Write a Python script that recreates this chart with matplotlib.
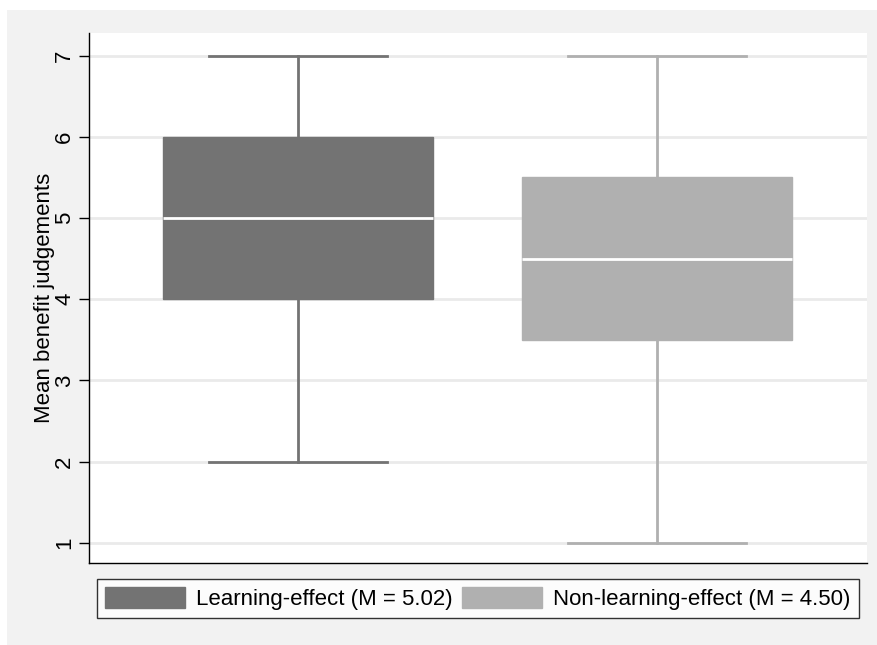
import matplotlib.pyplot as plt
from matplotlib.patches import Patch, Rectangle

plt.rcParams['font.family'] = ['Liberation Sans', 'DejaVu Sans']

# box plot summaries
groups = ['Learning-effect (M = 5.02)', 'Non-learning-effect (M = 4.50)']
q1 = [4.0, 3.5]
med = [5.0, 4.5]
q3 = [6.0, 5.5]
whislo = [2.0, 1.0]
whishi = [7.0, 7.0]
colors = ['#737373', '#b0b0b0']
yticks = [1, 2, 3, 4, 5, 6, 7]

fig = plt.figure(figsize=(8.78, 6.45), dpi=100, facecolor='white')
# stata-ish grey graph region
fig.patches.append(Rectangle((7 / 878, 0), 1, 1 - 10 / 645, transform=fig.transFigure,
                             facecolor='#f2f2f2', edgecolor='none', zorder=-10))

ax = fig.add_axes([89 / 878, 1 - 563 / 645, (867 - 89) / 878, (563 - 33) / 645])
ax.set_facecolor('white')

stats = []
for i in range(len(groups)):
    stats.append({'label': groups[i], 'q1': q1[i], 'med': med[i], 'q3': q3[i],
                  'whislo': whislo[i], 'whishi': whishi[i], 'fliers': []})

bp = ax.bxp(stats, positions=[1, 2], widths=0.754, capwidths=0.497,
            patch_artist=True, showfliers=False, manage_ticks=False)

for i, c in enumerate(colors):
    bp['boxes'][i].set_facecolor(c)
    bp['boxes'][i].set_edgecolor(c)
    bp['boxes'][i].set_linewidth(1)
    bp['medians'][i].set_color('white')
    bp['medians'][i].set_linewidth(2)
    for ln in bp['whiskers'][2 * i:2 * i + 2] + bp['caps'][2 * i:2 * i + 2]:
        ln.set_color(c)
        ln.set_linewidth(2)
    bp['boxes'][i].set_zorder(3)
    bp['medians'][i].set_zorder(4)

ax.set_xlim(0.416, 2.587)
ax.set_ylim(0.75, 7.28)
ax.set_xticks([])
ax.set_yticks(yticks)
ax.yaxis.grid(True, color='#eaeaea', linewidth=2)
ax.set_axisbelow(True)
ax.tick_params(axis='y', direction='out', length=7, width=1, labelsize=16,
               labelrotation=90, pad=3)
for lab in ax.get_yticklabels():
    lab.set_va('center')
ax.set_ylabel('Mean benefit judgements', fontsize=16)
ax.yaxis.set_label_coords(-0.044, 0.5)

for s in ['top', 'right']:
    ax.spines[s].set_visible(False)
for s in ['left', 'bottom']:
    ax.spines[s].set_color('black')
    ax.spines[s].set_linewidth(1)

handles = [Patch(facecolor=c, edgecolor=c) for c in colors]
leg = fig.legend(handles, groups, loc='center', bbox_to_anchor=(0.544, 0.072), ncol=2,
                 fontsize=16, frameon=True, fancybox=False, edgecolor='black',
                 handlelength=3.6, handleheight=1.1, handletextpad=0.5,
                 columnspacing=0.45, borderpad=0.35, borderaxespad=0)
leg.get_frame().set_linewidth(1)
leg.get_frame().set_facecolor('white')

fig.savefig('out.png', dpi=100, facecolor=fig.get_facecolor())
